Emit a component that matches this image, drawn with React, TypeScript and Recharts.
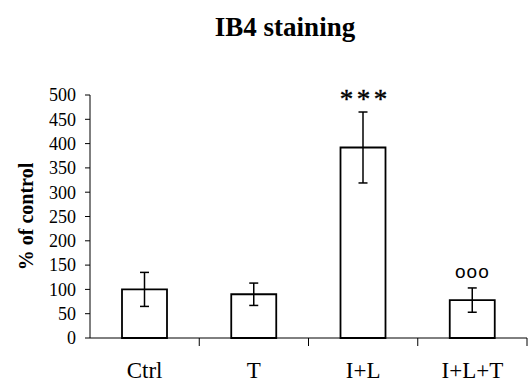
import React from "react";
import {
  ComposedChart,
  Bar,
  ErrorBar,
  Scatter,
  XAxis,
  YAxis,
} from "recharts";

const groups = ["Ctrl", "T", "I+L", "I+L+T"];
const means = [100, 90, 392, 78];
const errors = [35, 23, 73, 25];
const marks = ["", "", "***", "ooo"];
const yTicks = [0, 50, 100, 150, 200, 250, 300, 350, 400, 450, 500];

const data = groups.map((g, i) => ({
  group: g,
  mean: means[i],
  err: errors[i],
  top: means[i] + errors[i],
  mark: marks[i],
}));

const serif = "Liberation Serif, Times New Roman, DejaVu Serif, serif";

function MarkShape(props: any) {
  const { cx, cy, payload } = props;
  if (!payload || !payload.mark) return <g />;
  if (payload.mark === "ooo") {
    return (
      <text
        x={cx}
        y={cy - 10}
        textAnchor="middle"
        fontFamily="Liberation Sans, Arial, sans-serif"
        fontSize={19}
        letterSpacing={1}
        fill="#000"
      >
        {payload.mark}
      </text>
    );
  }
  return (
    <text
      x={cx + 2}
      y={cy - 4}
      textAnchor="middle"
      fontFamily={serif}
      fontSize={27}
      letterSpacing={3.5}
      stroke="#000"
      strokeWidth={0.4}
      fill="#000"
    >
      {payload.mark}
    </text>
  );
}

// category label plus the separator tick at the right edge of its band
function GroupTick(props: any) {
  const { x, y, payload } = props;
  const half = payload.offset || 0;
  const axisY = y - 24;
  return (
    <g>
      <line x1={x + half} y1={axisY} x2={x + half} y2={axisY + 8} stroke="#000" strokeWidth={1} />
      <text
        x={x}
        y={y}
        dy="0.71em"
        textAnchor="middle"
        fontFamily={serif}
        fontSize={23}
        fill="#000"
      >
        {payload.value}
      </text>
    </g>
  );
}

function ValueTick(props: any) {
  const { x, y, payload } = props;
  return (
    <text
      x={x}
      y={y}
      dy="0.355em"
      textAnchor="end"
      fontFamily={serif}
      fontSize={18}
      fill="#000"
    >
      {payload.value}
    </text>
  );
}

function YLabel(props: any) {
  const vb = props.viewBox || { x: 0, y: 95, width: 90, height: 243 };
  const x = 33;
  const y = vb.y + vb.height / 2;
  return (
    <text
      x={x}
      y={y}
      transform={`rotate(-90, ${x}, ${y})`}
      textAnchor="middle"
      fontFamily={serif}
      fontWeight="bold"
      fontSize={20}
      fill="#000"
    >
      % of control
    </text>
  );
}

export default function App() {
  return (
    <div
      style={{
        position: "absolute",
        left: 0,
        top: 0,
        width: 529,
        height: 383,
        background: "#fff",
        fontFamily: serif,
      }}
    >
      <div
        style={{
          position: "absolute",
          left: 0,
          top: 12,
          width: 570,
          textAlign: "center",
          fontFamily: serif,
          fontWeight: "bold",
          fontSize: 27,
          lineHeight: "30px",
          color: "#000",
        }}
      >
        IB4 staining
      </div>
      <ComposedChart
        width={529}
        height={383}
        data={data}
        margin={{ top: 95, right: 2, bottom: 0, left: 0 }}
        style={{ fontFamily: serif }}
      >
        <XAxis
          dataKey="group"
          height={45}
          axisLine={{ stroke: "#000", strokeWidth: 1 }}
          tickLine={false}
          tickSize={0}
          tickMargin={24}
          tick={<GroupTick />}
        />
        <YAxis
          width={90}
          domain={[0, 500]}
          ticks={yTicks}
          interval={0}
          axisLine={{ stroke: "#000", strokeWidth: 1 }}
          tickLine={{ stroke: "#000", strokeWidth: 1 }}
          tickSize={5}
          tickMargin={9}
          tick={<ValueTick />}
          label={{ content: YLabel }}
        />
        <Bar
          dataKey="mean"
          barSize={45}
          fill="#fff"
          stroke="#000"
          strokeWidth={1.8}
          isAnimationActive={false}
        >
          <ErrorBar dataKey="err" width={4.5} stroke="#000" strokeWidth={1.5} />
        </Bar>
        <Scatter dataKey="top" shape={MarkShape} isAnimationActive={false} />
      </ComposedChart>
    </div>
  );
}
